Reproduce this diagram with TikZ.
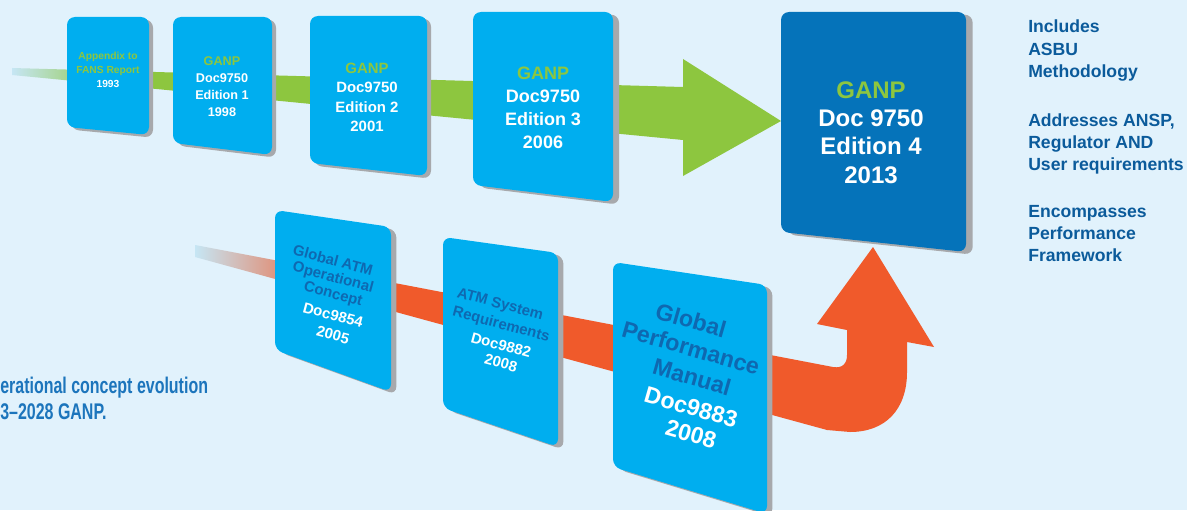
\documentclass[tikz,border=0pt]{standalone}
\usepackage{fontspec}
\setmainfont{Liberation Sans}
\newfontfamily\capfont[FakeStretch=0.705]{Liberation Sans}
\definecolor{bg}{HTML}{E1F2FC}
\definecolor{cyanbox}{HTML}{00AEEF}
\definecolor{darkbox}{HTML}{0573BA}
\definecolor{grn}{HTML}{8DC63F}
\definecolor{org}{HTML}{F05A2B}
\definecolor{fadeblue}{HTML}{C6E6F4}
\definecolor{shadowc}{HTML}{A7A9AC}
\definecolor{innerblue}{HTML}{0F68B0}
\definecolor{capblue}{HTML}{1C75BC}
\definecolor{sideblue}{HTML}{0B5B9B}
\newcommand\panel[8]{%
  \fill[shadowc,rounded corners=6pt,xshift=#8,yshift=-2pt] (#2,#4) -- (#3,#5) -- (#3,#7) -- (#2,#6) -- cycle;
  \fill[#1,rounded corners=6pt] (#2,#4) -- (#3,#5) -- (#3,#7) -- (#2,#6) -- cycle;}
\tikzset{
  boxtext/.style={text=white, align=center, inner sep=0pt},
  slanttext/.style={inner sep=0pt, text=innerblue},
  smallslant/.style={slanttext, rotate=-15, font=\bfseries\fontsize{11.2}{13}\selectfont},
  bigslant/.style={slanttext, rotate=-16, font=\bfseries\fontsize{17.4}{20}\selectfont},
  sidetext/.style={anchor=base west, inner sep=0pt, align=left, text=sideblue,
    font=\bfseries\fontsize{13.2}{16.5}\selectfont},
  captext/.style={anchor=base west, inner sep=0pt, text=capblue,
    font=\capfont\bfseries\fontsize{17}{20}\selectfont}
}
\begin{document}
\begin{tikzpicture}[x=0.75pt,y=-0.75pt]
\useasboundingbox (0,0) rectangle (1187,510);
\fill[bg] (0,0) rectangle (1187,510);

% green arrow
\shade[left color=fadeblue, right color=grn] (12,68) -- (112,70.8) -- (112,84.7) -- (12,75) -- cycle;
\fill[grn] (110,70.7) -- (683,87) -- (683,59) -- (781,121) -- (683,176) -- (683,140) -- (110,84.5) -- cycle;

% orange arrow
\shade[left color=fadeblue, right color=org] (195,245) -- (335,271.6) -- (335,295.4) -- (195,257) -- cycle;
\fill[org] (333,271.2) -- (833,367) .. controls (842,368.5) and (847,364) .. (847,355)
  -- (847,330) -- (817,324) -- (873,247) -- (934,347) -- (907,342) -- (907,372)
  .. controls (907,410) and (885,432) .. (850,432) -- (827,430) -- (333,294.8) -- cycle;

% upper panels
\panel{cyanbox}{67}{149}{17}{17}{127}{135}{3pt}
\panel{cyanbox}{173}{272}{17}{17}{143}{155}{3pt}
\panel{cyanbox}{310}{427}{16}{16}{163}{176}{3pt}
\panel{cyanbox}{473}{613}{12}{12}{185}{202}{4.5pt}
\panel{darkbox}{781}{966}{12}{12}{232}{252}{5pt}
% lower panels
\panel{cyanbox}{275}{391}{210}{227}{350}{392}{4pt}
\panel{cyanbox}{443}{558}{237}{253}{408}{447}{4pt}
\panel{cyanbox}{613}{767}{262}{285}{467}{514}{4pt}

% upper texts
\node[boxtext, font=\bfseries\fontsize{7.7}{10.5}\selectfont] (t1) at (108,70)
  {{\color{grn}Appendix to}\\{\color{grn}FANS Report}\\1993};
\node[boxtext, font=\bfseries\fontsize{9.5}{12.75}\selectfont] (t2) at (222,86.5)
  {{\color{grn}GANP}\\Doc9750\\Edition 1\\1998};
\node[boxtext, font=\bfseries\fontsize{11.2}{14.6}\selectfont] (t3) at (367,97.5)
  {{\color{grn}GANP}\\Doc9750\\Edition 2\\2001};
\node[boxtext, font=\bfseries\fontsize{13.5}{17.3}\selectfont] (t4) at (543,108)
  {{\color{grn}GANP}\\Doc9750\\Edition 3\\2006};
\node[boxtext, font=\bfseries\fontsize{18}{21.2}\selectfont] (t5) at (871,132.5)
  {{\color{grn}GANP}\\Doc 9750\\Edition 4\\2013};

% lower texts
\node[smallslant] (a1) at (333,260) {Global ATM};
\node[smallslant] (a2) at (333,278) {Operational};
\node[smallslant] (a3) at (333,295) {Concept};
\node[smallslant, text=white] (a4) at (333,315) {Doc9854};
\node[smallslant, text=white] (a5) at (333,335) {2005};
\node[smallslant] (b1) at (500,305) {ATM System};
\node[smallslant] (b2) at (501,325) {Requirements};
\node[smallslant, text=white] (b3) at (501,345) {Doc9882};
\node[smallslant, text=white] (b4) at (501,363) {2008};
\node[bigslant] (c1) at (691,320) {Global};
\node[bigslant] (c2) at (691,348) {Performance};
\node[bigslant] (c3) at (692,377) {Manual};
\node[bigslant, text=white] (c4) at (691,407) {Doc9883};
\node[bigslant, text=white] (c5) at (691,434) {2008};

% side texts (anchored at the baseline of their last line)
\node[sidetext] (s1) at (1028,77) {Includes\\ASBU\\Methodology};
\node[sidetext] (s2) at (1028,170) {Addresses ANSP,\\Regulator AND\\User requirements};
\node[sidetext] (s3) at (1028,261) {Encompasses\\Performance\\Framework};

% caption
\node[captext] (cap1) at (0,393) {erational concept evolution};
\node[captext] (cap2) at (0,419) {3–2028 GANP.};
\end{tikzpicture}
\end{document}
